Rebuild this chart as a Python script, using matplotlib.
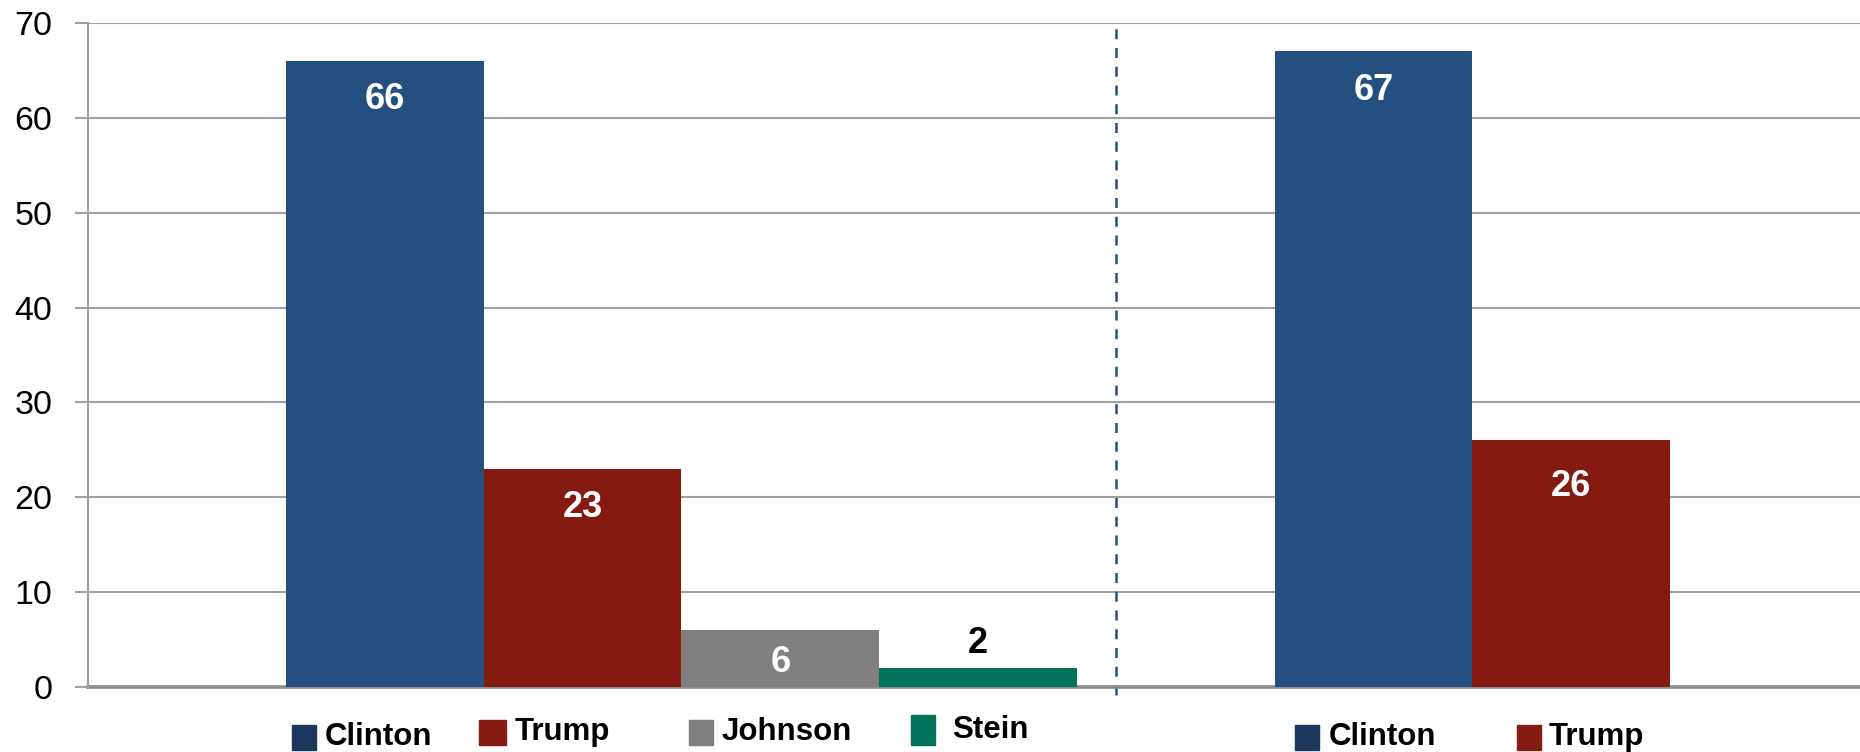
import matplotlib
matplotlib.use("Agg")
import matplotlib.pyplot as plt
from matplotlib.patches import Rectangle

plt.rcParams['font.family'] = ['Liberation Sans', 'DejaVu Sans']

# data
left_names = ['Clinton', 'Trump', 'Johnson', 'Stein']
left_values = [66, 23, 6, 2]
right_names = ['Clinton', 'Trump']
right_values = [67, 26]

bar_colors = {'Clinton': '#244f7f', 'Trump': '#841a12', 'Johnson': '#808080', 'Stein': '#03735a'}
legend_colors = {'Clinton': '#1c375e', 'Trump': '#841a12', 'Johnson': '#808080', 'Stein': '#03735a'}
label_colors = {'Clinton': 'white', 'Trump': 'white', 'Johnson': 'white', 'Stein': 'black'}

W, H = 1860, 752
fig = plt.figure(figsize=(W / 100, H / 100), dpi=100)
ax = fig.add_axes([88 / W, (H - 687) / H, 1 - 88 / W, (687 - 23) / H])

grid_c = '#a0a0a0'

def draw_group(start, names, values, offsets):
    xs = [start + i + 0.5 for i in range(len(names))]
    bars = ax.bar(xs, values, width=1.0, color=[bar_colors[n] for n in names], zorder=3)
    for b, n, v, off in zip(bars, names, values, offsets):
        cx = b.get_x() + b.get_width() / 2
        ax.annotate(str(v), (cx, v), xytext=(0, off), textcoords='offset points',
                    ha='center', va='center', fontsize=26, fontweight='bold',
                    color=label_colors[n], zorder=4)

draw_group(1, left_names, left_values, [-28, -28, -23, 18])
draw_group(6, right_names, right_values, [-28, -33])

ax.set_xlim(0, 8.96)
ax.set_ylim(0, 70)
ax.set_yticks(range(0, 71, 10))
ax.set_xticks([])
ax.yaxis.grid(True, color=grid_c, linewidth=1.5, zorder=0)
ax.set_axisbelow(True)
for s in ['top', 'right', 'bottom']:
    ax.spines[s].set_visible(False)
ax.spines['left'].set_color(grid_c)
ax.spines['left'].set_linewidth(1.5)
ax.axhline(0, color='#8c8c8c', linewidth=2.6, zorder=2, clip_on=False)
ax.tick_params(axis='y', length=9.5, width=1.5, color=grid_c, pad=16, labelsize=24.5)

# divider between the two questions
ax.axvline(5.2, ymin=-0.012, ymax=0.998, color='#244f7f', linewidth=1.8,
           linestyle=(0, (4, 3.5)), clip_on=False, zorder=1)

# legends
def legend_item(x_sq, y_mid, x_txt, name, sq_w=24, sq_h=25):
    fig.add_artist(Rectangle((x_sq / W, (H - y_mid - sq_h / 2) / H), sq_w / W, sq_h / H,
                             transform=fig.transFigure, color=legend_colors[name]))
    fig.text(x_txt / W, (H - y_mid) / H, name, ha='left', va='center',
             fontsize=22.5, fontweight='bold', color='black')

legend_item(292, 737, 325, 'Clinton')
legend_item(479, 732, 515, 'Trump', sq_w=27)
legend_item(689, 732, 722, 'Johnson')
legend_item(911, 730, 952, 'Stein', sq_h=30)
legend_item(1295, 737, 1329, 'Clinton')
legend_item(1517, 737, 1549, 'Trump')

fig.savefig('out.png', dpi=100)
